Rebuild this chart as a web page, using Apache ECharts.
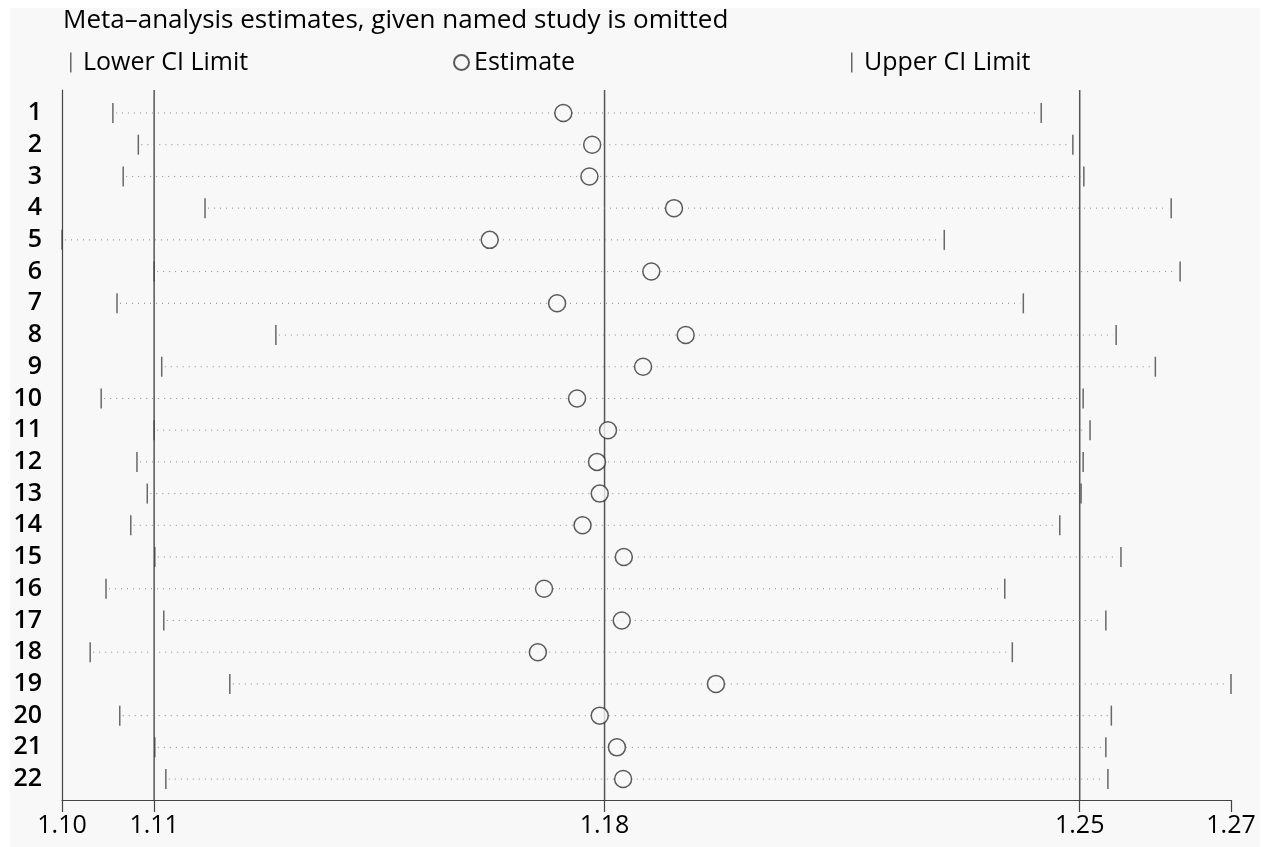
<!DOCTYPE html>
<html>
<head>
<meta charset="utf-8">
<script src="https://cdn.jsdelivr.net/npm/echarts@6/dist/echarts.min.js"></script>
<style>
html,body{margin:0;padding:0;background:#ffffff;}
#chart{width:1272px;height:847px;}
</style>
</head>
<body>
<div id="chart"></div>
<script>
// ---- data ----
const studies = ['1','2','3','4','5','6','7','8','9','10','11','12','13','14','15','16','17','18','19','20','21','22'];
const lowerCI = [1.1074,1.1111,1.1089,1.1208,1.1000,1.1134,1.1080,1.1311,1.1145,1.1057,1.1134,1.1109,1.1124,1.1100,1.1135,1.1064,1.1148,1.1041,1.1244,1.1084,1.1135,1.1151];
const estimates = [1.1729,1.1771,1.1767,1.1890,1.1622,1.1857,1.1720,1.1907,1.1845,1.1749,1.1794,1.1778,1.1782,1.1757,1.1817,1.1701,1.1814,1.1692,1.1951,1.1782,1.1807,1.1816];
const upperCI = [1.2424,1.2470,1.2486,1.2613,1.2283,1.2626,1.2398,1.2533,1.2590,1.2485,1.2495,1.2485,1.2482,1.2451,1.2540,1.2371,1.2518,1.2382,1.2700,1.2526,1.2518,1.2521];
const overallLimits = [1.1134, 1.1789, 1.2480]; // lower CI, estimate, upper CI of full meta-analysis
const axisEnds = [1.10, 1.27];
const xTickValues = [axisEnds[0], overallLimits[0], overallLimits[1], overallLimits[2], axisEnds[1]];

const FONT = '"Open Sans", "DejaVu Sans", sans-serif';
const BG = '#f8f8f8';

const rowIdx = studies.map((s, i) => i + 1);
const lowerData = lowerCI.map((v, i) => [v, rowIdx[i]]);
const estData = estimates.map((v, i) => [v, rowIdx[i]]);
const upperData = upperCI.map((v, i) => [v, rowIdx[i]]);
const spanData = lowerCI.map((v, i) => [v, upperCI[i], rowIdx[i]]);
const refData = overallLimits.map(v => [v, 1]);

const chart = echarts.init(document.getElementById('chart'), null, {renderer: 'canvas'});
const option = {
  animation: false,
  backgroundColor: 'transparent',
  textStyle: {fontFamily: FONT},
  graphic: [{
    type: 'rect', z: -100, silent: true,
    shape: {x: 10, y: 8, width: 1250, height: 839},
    style: {fill: BG}
  }],
  title: {
    text: 'Meta\u2013analysis estimates, given named study is omitted',
    left: 58, top: 3,
    textStyle: {fontFamily: FONT, fontSize: 26, fontWeight: 'normal', color: '#000'}
  },
  legend: [
    {data: ['Lower CI Limit'], left: 65, top: 45, icon: 'rect', itemWidth: 1.5, itemHeight: 20,
     formatter: ' {name}', textStyle: {fontFamily: FONT, fontSize: 25, color: '#000'}},
    {data: ['Estimate'], left: 448, top: 45, icon: 'circle', itemWidth: 15, itemHeight: 15,
     textStyle: {fontFamily: FONT, fontSize: 25, color: '#000'}},
    {data: ['Upper CI Limit'], left: 846, top: 45, icon: 'rect', itemWidth: 1.5, itemHeight: 20,
     formatter: ' {name}', textStyle: {fontFamily: FONT, fontSize: 25, color: '#000'}}
  ],
  grid: {left: 62, right: 41, top: 90, bottom: 47, containLabel: false},
  xAxis: {
    type: 'value', min: axisEnds[0], max: axisEnds[1],
    axisLine: {show: true, lineStyle: {color: '#444', width: 1.2}},
    axisTick: {show: true, customValues: xTickValues, length: 12, lineStyle: {color: '#444', width: 1.2}},
    axisLabel: {show: true, customValues: xTickValues, margin: 13, fontSize: 25, color: '#000',
      fontFamily: FONT, formatter: v => Number(v).toFixed(2)},
    splitLine: {show: false}
  },
  yAxis: {
    type: 'value', inverse: true, min: 0.275, max: 22.66,
    axisLine: {show: true, lineStyle: {color: '#444', width: 1.2}},
    axisTick: {show: false},
    axisLabel: {show: true, customValues: rowIdx, margin: 20, fontSize: 25, fontWeight: 600, color: '#000',
      fontFamily: FONT, formatter: v => studies[Math.round(v) - 1] || ''},
    splitLine: {show: false}
  },
  series: [
    {
      type: 'custom', name: 'reference', z: 1, silent: true,
      data: refData,
      encode: {x: 0, y: 1},
      renderItem: function (params, api) {
        const cs = params.coordSys;
        const p = api.coord([api.value(0), api.value(1)]);
        return {
          type: 'line',
          shape: {x1: p[0], y1: cs.y, x2: p[0], y2: cs.y + cs.height},
          style: {stroke: '#555', lineWidth: 1.5}
        };
      }
    },
    {
      type: 'custom', name: 'span', z: 2, silent: true,
      data: spanData,
      encode: {x: [0, 1], y: 2},
      renderItem: function (params, api) {
        const p1 = api.coord([api.value(0), api.value(2)]);
        const p2 = api.coord([api.value(1), api.value(2)]);
        return {
          type: 'line',
          shape: {x1: p1[0] + 3, y1: p1[1], x2: p2[0] - 3, y2: p2[1]},
          style: {stroke: '#888', lineWidth: 1, lineDash: [1, 5]}
        };
      }
    },
    {
      type: 'scatter', name: 'Lower CI Limit', z: 3, data: lowerData,
      symbol: 'rect', symbolSize: [1.5, 20], itemStyle: {color: '#444'}
    },
    {
      type: 'scatter', name: 'Upper CI Limit', z: 3, data: upperData,
      symbol: 'rect', symbolSize: [1.5, 20], itemStyle: {color: '#444'}
    },
    {
      type: 'scatter', name: 'Estimate', z: 4, data: estData,
      symbol: 'circle', symbolSize: 17,
      itemStyle: {color: BG, borderColor: '#333', borderWidth: 1.5}
    }
  ]
};
chart.setOption(option);
</script>
</body>
</html>
